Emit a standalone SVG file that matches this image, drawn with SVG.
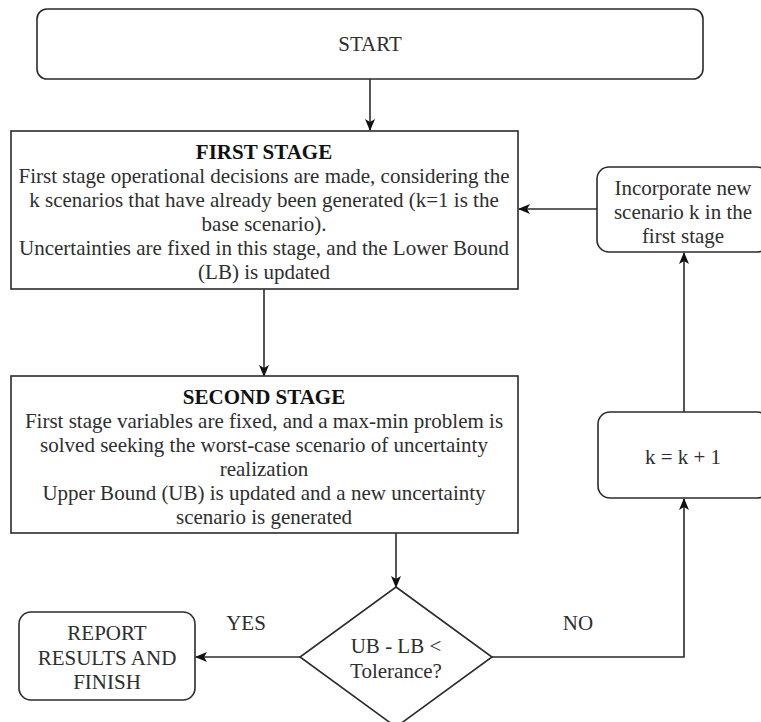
<svg xmlns="http://www.w3.org/2000/svg" width="761" height="722" viewBox="0 0 761 722">
<style>
  .box { fill: #ffffff; stroke: #2b2b2b; stroke-width: 1.6; }
  .edge { fill: none; stroke: #2b2b2b; stroke-width: 1.6; }
  text { font-family: "Liberation Serif", "Times New Roman", serif; font-size: 21px; fill: #2e2e2e; text-anchor: middle; }
  .b { font-weight: bold; fill: #111; }
</style>
<defs>
  <marker id="arr" markerWidth="12" markerHeight="10" refX="11" refY="5" orient="auto" markerUnits="userSpaceOnUse">
    <path d="M0,0 L12,5 L0,10 L3,5 z" fill="#111"/>
  </marker>
</defs>
<rect width="761" height="722" fill="#ffffff"/>

<g id="connectors">
  <path class="edge" d="M370,79 L370,130" marker-end="url(#arr)"/>
  <path class="edge" d="M264,289 L264,376" marker-end="url(#arr)"/>
  <path class="edge" d="M396,533 L396,587" marker-end="url(#arr)"/>
  <path class="edge" d="M300,657 L196,657" marker-end="url(#arr)"/>
  <path class="edge" d="M492,657 L684,657 L684,499" marker-end="url(#arr)"/>
  <path class="edge" d="M684,412 L684,253" marker-end="url(#arr)"/>
  <path class="edge" d="M597,209 L519,209" marker-end="url(#arr)"/>
  <text x="246" y="630">YES</text>
  <text x="578" y="630">NO</text>
</g>

<g id="start">
  <rect class="box" x="37" y="9" width="666" height="70" rx="10"/>
  <text x="370" y="51">START</text>
</g>

<g id="first-stage">
  <rect class="box" x="11" y="131" width="507" height="158"/>
  <text class="b" x="264" y="159">FIRST STAGE</text>
  <text x="264" y="183">First stage operational decisions are made, considering the</text>
  <text x="264" y="207">k scenarios that have already been generated (k=1 is the</text>
  <text x="264" y="231">base scenario).</text>
  <text x="264" y="255">Uncertainties are fixed in this stage, and the Lower Bound</text>
  <text x="264" y="279">(LB) is updated</text>
</g>

<g id="second-stage">
  <rect class="box" x="11" y="376" width="507" height="157"/>
  <text class="b" x="264" y="404">SECOND STAGE</text>
  <text x="264" y="428">First stage variables are fixed, and a max-min problem is</text>
  <text x="264" y="452">solved seeking the worst-case scenario of uncertainty</text>
  <text x="264" y="476">realization</text>
  <text x="264" y="500">Upper Bound (UB) is updated and a new uncertainty</text>
  <text x="264" y="524">scenario is generated</text>
</g>

<g id="incorporate">
  <rect class="box" x="597" y="167" width="172" height="85" rx="12"/>
  <text x="683" y="195">Incorporate new</text>
  <text x="683" y="219">scenario k in the</text>
  <text x="683" y="243">first stage</text>
</g>

<g id="increment">
  <rect class="box" x="598" y="412" width="171" height="86" rx="12"/>
  <text x="683" y="464">k = k + 1</text>
</g>

<g id="decision">
  <polygon class="box" points="396,587 492,657 396,727 300,657"/>
  <text x="396" y="653">UB - LB &lt;</text>
  <text x="396" y="678">Tolerance?</text>
</g>

<g id="report">
  <rect class="box" x="19" y="612" width="176" height="88" rx="12"/>
  <text x="107" y="640">REPORT</text>
  <text x="107" y="665">RESULTS AND</text>
  <text x="107" y="689">FINISH</text>
</g>
</svg>
